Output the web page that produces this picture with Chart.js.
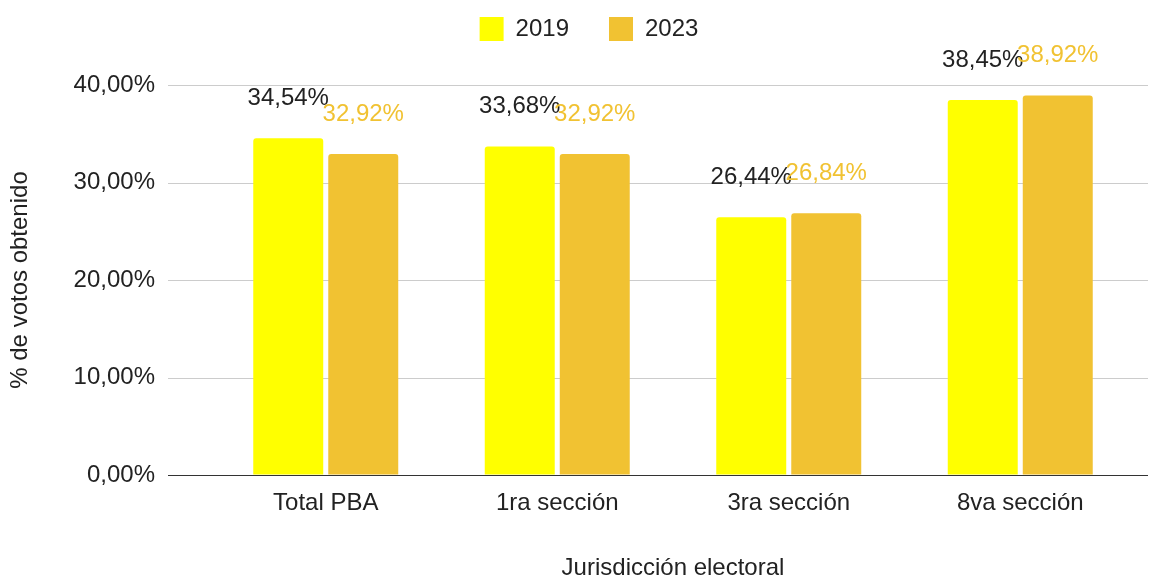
<!DOCTYPE html>
<html>
<head>
<meta charset="utf-8">
<script src="https://cdn.jsdelivr.net/npm/chart.js@4"></script>
<style>
    body { margin: 0; background: #fff; }
    #wrap { width: 1162px; height: 578px; position: relative; }
</style>
</head>
<body>
<div id="wrap"><canvas id="votosChart"></canvas></div>
<script>
// datos del gráfico
const categorias = ['Total PBA', '1ra sección', '3ra sección', '8va sección'];
const serie2019 = [34.54, 33.68, 26.44, 38.45];
const serie2023 = [32.92, 32.92, 26.84, 38.92];
const ticksY = [0, 10, 20, 30, 40];

const FONT = "'Liberation Sans', Arial, sans-serif";
const fmt = v => v.toFixed(2).replace('.', ',') + '%';

// líneas de grilla horizontales (se extienden un poco fuera del área)
const gridPlugin = {
    id: 'gridExt',
    beforeDatasetsDraw(chart) {
        const { ctx, chartArea, scales } = chart;
        ctx.save();
        ticksY.forEach(v => {
            const y = Math.round(scales.y.getPixelForValue(v)) + 0.5;
            ctx.strokeStyle = v === 0 ? '#333333' : '#cccccc';
            ctx.lineWidth = 1;
            ctx.beginPath();
            ctx.moveTo(chartArea.left - 42, y);
            ctx.lineTo(chartArea.right + 12, y);
            ctx.stroke();
        });
        ctx.restore();
    }
};

// etiquetas de valor sobre cada barra
const labelPlugin = {
    id: 'valueLabels',
    afterDatasetsDraw(chart) {
        const { ctx } = chart;
        ctx.save();
        ctx.font = '24px ' + FONT;
        ctx.textAlign = 'center';
        ctx.textBaseline = 'middle';
        chart.data.datasets.forEach((ds, i) => {
            ctx.fillStyle = ds.labelColor;
            chart.getDatasetMeta(i).data.forEach((bar, j) => {
                ctx.fillText(fmt(ds.data[j]), bar.x, bar.y - 40);
            });
        });
        ctx.restore();
    }
};

// altura fija de la leyenda y leve corrimiento horizontal
const legendHeight = {
    id: 'legendHeight',
    beforeInit(chart) {
        const lg = chart.legend;
        const fit = lg.fit;
        lg.fit = function () {
            fit.bind(this)();
            this.height = 108;
        };
        const draw = lg.draw;
        lg.draw = function () {
            this.ctx.save();
            this.ctx.translate(21, 0);
            draw.bind(this)();
            this.ctx.restore();
        };
    }
};

new Chart(document.getElementById('votosChart').getContext('2d'), {
    type: 'bar',
    data: {
        labels: categorias,
        datasets: [
            { label: '2019', data: serie2019, backgroundColor: '#ffff00', labelColor: '#222222', borderRadius: 3, borderSkipped: 'bottom' },
            { label: '2023', data: serie2023, backgroundColor: '#f1c232', labelColor: '#f1c232', borderRadius: 3, borderSkipped: 'bottom' }
        ]
    },
    plugins: [gridPlugin, labelPlugin, legendHeight],
    options: {
        responsive: true,
        maintainAspectRatio: false,
        animation: false,
        datasets: { bar: { categoryPercentage: 0.648, barPercentage: 0.933 } },
        layout: { padding: { top: -23, right: 26, bottom: -5, left: 0 } },
        plugins: {
            legend: {
                position: 'top',
                labels: { color: '#222222', font: { size: 24, family: FONT }, boxWidth: 24, boxHeight: 24, padding: 40 }
            },
            tooltip: { enabled: false }
        },
        scales: {
            y: {
                min: 0,
                max: 40,
                afterFit(scale) { scale.width = 210; },
                afterBuildTicks(scale) { scale.ticks = ticksY.map(v => ({ value: v })); },
                grid: { color: 'transparent', tickLength: 42, drawTicks: true },
                border: { display: false },
                ticks: { color: '#222222', font: { size: 24, family: FONT }, padding: 13, callback: v => fmt(v) },
                title: { display: true, text: '% de votos obtenido', color: '#222222', font: { size: 24, family: FONT }, padding: { top: 6, bottom: 0 } }
            },
            x: {
                afterFit(scale) { scale.height = 108; },
                grid: { display: false, drawTicks: false },
                border: { display: false },
                ticks: { color: '#222222', font: { size: 24, family: FONT }, padding: 14 },
                title: { display: true, text: 'Jurisdicción electoral', color: '#222222', font: { size: 24, family: FONT }, padding: { top: 0, bottom: 0 } }
            }
        }
    }
});
</script>
</body>
</html>
